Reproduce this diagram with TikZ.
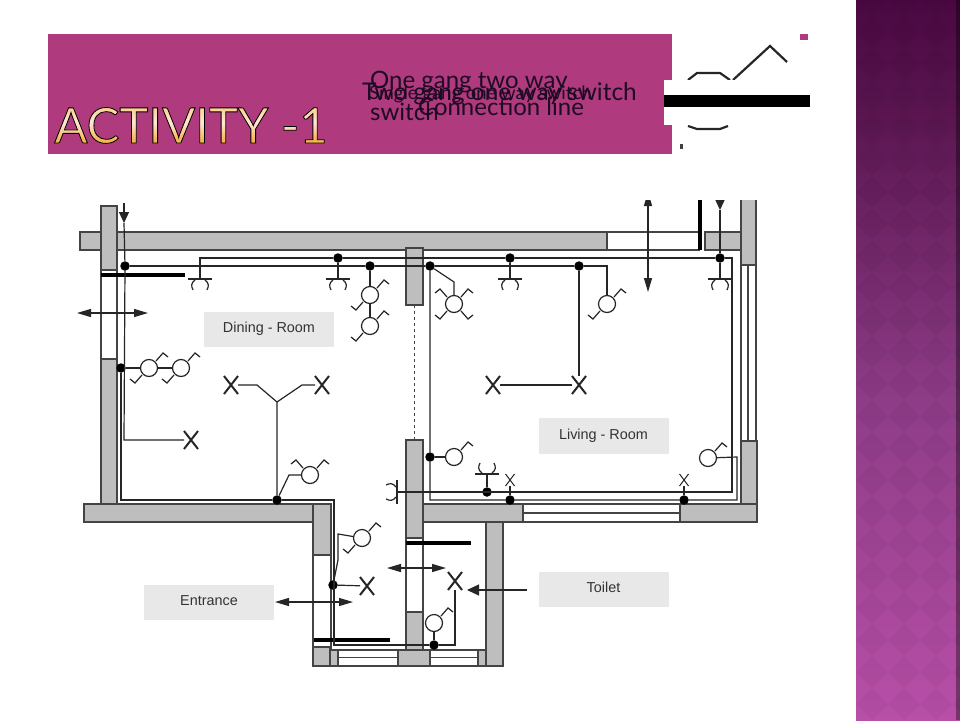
\documentclass[tikz,border=0pt]{standalone}
\usepackage{fontspec}
\setmainfont{Liberation Sans}
\newfontfamily\gillish{Lato}
\usetikzlibrary{arrows.meta,shapes.misc}
\definecolor{boxpink}{HTML}{B03A7E}
\definecolor{wallgrey}{HTML}{BEBEBE}
\definecolor{wallline}{HTML}{444444}
\definecolor{wireblk}{HTML}{262626}
\definecolor{labelbg}{HTML}{E8E8E8}
\definecolor{inkdark}{HTML}{1F0A24}
\definecolor{tA}{HTML}{F9B64C}
\definecolor{tB}{HTML}{FFE9D6}
\definecolor{tC}{HTML}{F9CB80}
\definecolor{stripA}{HTML}{4A0842}
\definecolor{stripB}{HTML}{5B1651}
\definecolor{stripC}{HTML}{8E3C87}
\definecolor{stripD}{HTML}{B84FA8}
\newsavebox{\titlebox}
\newcommand{\gradienttitle}[1]{%
  \sbox{\titlebox}{\gillish\fontsize{49}{60}\selectfont #1}%
  \special{pdf:code q 7 Tr}\usebox{\titlebox}\special{pdf:code 0 Tr}%
  \kern-\wd\titlebox
  \foreach \hh in {-14,-12,...,44}{%
    \pgfmathtruncatemacro{\pa}{min(100,max(0,(19-\hh)*6))}%
    \pgfmathtruncatemacro{\pb}{min(100,max(0,(\hh-19)*5.5))}%
    \ifnum\hh<19 \rlap{\textcolor{tA!\pa!tB}{\rule[\hh pt]{\wd\titlebox}{2.3pt}}}%
    \else \rlap{\textcolor{tC!\pb!tB}{\rule[\hh pt]{\wd\titlebox}{2.3pt}}}\fi}%
  \special{pdf:code Q}%
  \special{pdf:code q 1 Tr 0.8 w 0.54 0.22 0.38 RG}\usebox{\titlebox}\special{pdf:code 0 Tr}\special{pdf:code Q}%
  \kern-\wd\titlebox\hphantom{\usebox{\titlebox}}%
}
\tikzset{
  wall/.style={fill=wallgrey,draw=wallline,line width=1.2pt},
  frame/.style={draw=wallline,line width=1.2pt},
  wire/.style={draw=wireblk,line width=1.2pt},
  heavy/.style={draw=black,line width=4.4pt},
  dot/.style={circle,fill=black,inner sep=0pt,minimum size=9.5pt},
  lamp/.style={circle,draw=wireblk,line width=1.2pt,fill=white,inner sep=0pt,minimum size=17pt},
  xmark/.style={cross out,draw=wireblk,line width=2pt,inner sep=0pt,minimum width=12pt,minimum height=16pt},
  smallx/.style={cross out,draw=wireblk,line width=1pt,inner sep=0pt,minimum width=8pt,minimum height=11pt},
  roomlabel/.style={fill=labelbg,text=black!80,font=\fontsize{14.4}{16}\selectfont,minimum width=130pt,minimum height=35.5pt,inner sep=0pt,text height=10pt,text depth=4pt},
  doorarrow/.style={wire,{Triangle[length=14pt,width=8pt]}-{Triangle[length=14pt,width=8pt]}},
  inarrow/.style={wire,-{Triangle[length=11pt,width=10pt]}},
  overlay/.style={text=inkdark,inner sep=0pt,anchor=base west,align=left,font=\gillish\fontsize{24}{32}\selectfont},
  swarm/.pic={\draw[wire] (7,-7)--(14,-15)--(19,-11);},
  socket/.pic={\draw[wire,line width=1.5pt] (-12,0)--(12,0);
    \draw[wire] (-5,1) .. controls (-9,4) and (-9,7) .. (-7,11);
    \draw[wire] (5,1) .. controls (9,4) and (9,7) .. (7,11);}
}
\begin{document}
\begin{tikzpicture}[x=1pt,y=-1pt]
\useasboundingbox (0,0) rectangle (960,720);
\fill[white] (0,0) rectangle (960,720);
% side strip
\begin{scope}
  \clip (856,0) rectangle (960,720);
  \shade[top color=stripA,bottom color=stripB] (856,0) rectangle (960,120.5);
  \shade[top color=stripB,bottom color=stripC] (856,120) rectangle (960,400.5);
  \shade[top color=stripC,bottom color=stripD] (856,400) rectangle (960,720);
  \foreach \r in {0,...,23}{
    \foreach \c in {0,...,4}{
      \pgfmathsetmacro{\cx}{840+\c*32}
      \pgfmathsetmacro{\cy}{\r*32}
      \fill[black,opacity=0.035] (\cx-16,\cy) -- (\cx,\cy-16) -- (\cx+16,\cy) -- (\cx,\cy+16) -- cycle;
    }
  }
  \fill[black,opacity=0.35] (956,0) rectangle (960,720);
\end{scope}
% title box
\fill[boxpink] (48,34) rectangle (672,154);
\node[inner sep=0pt,anchor=base] (title) at (191,143) {\gradienttitle{ACTIVITY -1}};
% overlapped texts
\node[overlay] (t1) at (370,120) {One gang two way\\switch};
\node[overlay,font=\gillish\fontsize{24.4}{32}\selectfont] (t2) at (362,100) {Two gang one way switch};
\node[overlay,font=\gillish\fontsize{18.5}{22}\selectfont] (t3) at (369,99) {Single gang one way switch};
\node[overlay] (t4) at (418,115) {Connection line};
% clipped symbol image at top right
\draw[wire,line width=2.2pt] (688,80)--(697,73)--(720,73)--(730,80);
\draw[wire,line width=2.2pt] (733,80)--(770,46)--(787,62);
\draw[wire,line width=2.2pt] (688,126)--(697,129)--(720,129)--(728,126);
\fill[white] (664,80) rectangle (810,125);
\fill[black] (664,94.5) rectangle (810,106.5);
\fill[boxpink] (800,34) rectangle (808,40);
\fill[black!75] (680,144) rectangle (683,149);
% plan
\begin{scope}
\clip (60,200) rectangle (790,680);
% walls
\draw[wall] (80,232) rectangle (607,250);
\draw[frame] (607,232) -- (700,232) (607,250) -- (700,250);
\draw[wall] (705,232) rectangle (741,250);
\draw[wall] (101,206) rectangle (117,270);
\draw[frame] (101,270) -- (101,359) (117,270) -- (117,359);
\draw[wall] (101,359) rectangle (117,504);
\draw[wall] (741,190) rectangle (756,265);
\draw[frame] (741,265) -- (741,441) (748,265) -- (748,441) (756,265) -- (756,441);
\draw[wall] (741,441) rectangle (757,504);
\draw[wall] (406,248) rectangle (423,305);
\draw[frame,dashed,line width=1pt] (414,305) -- (414,440);
\draw[wall] (84,504) rectangle (331,522);
\draw[wall] (313,504) rectangle (331,555);
\draw[frame] (313,555) -- (313,647) (331,555) -- (331,650);
\draw[wall] (313,647) rectangle (330,666);
\draw[wall] (330,650) rectangle (338,666);
\draw[frame] (338,650) -- (398,650) (338,657.5) -- (398,657.5) (338,666) -- (398,666);
\draw[wall] (398,650) rectangle (430,666);
\draw[frame] (430,650) -- (478,650) (430,657.5) -- (478,657.5) (430,666) -- (478,666);
\draw[wall] (478,650) rectangle (486,666);
\draw[wall] (486,522) rectangle (503,666);
\draw[wall] (406,440) rectangle (423,538);
\draw[frame] (406,538) -- (406,612) (423,538) -- (423,612);
\draw[wall] (406,612) rectangle (423,650);
\draw[wall] (423,504) rectangle (523,522);
\draw[frame] (523,504) -- (680,504) (523,513) -- (680,513) (523,522) -- (680,522);
\draw[wall] (680,504) rectangle (757,522);
% heavy bars
\draw[heavy] (700,190) -- (700,250);
\draw[heavy] (101,275) -- (185,275);
\draw[heavy] (406,543) -- (471,543);
\draw[heavy] (314,640) -- (390,640);
% labels
\node[roomlabel] (dining) at (269,329.5) {Dining - Room};
\node[roomlabel] (living) at (603.5,436) {Living - Room};
\node[roomlabel] (toilet) at (603.5,589.5) {Toilet};
\node[roomlabel] (entrance) at (209,602.5) {Entrance};
% junction dots
\node[dot] (d1) at (125,266) {};
\node[dot] (d2) at (338,258) {};
\node[dot] (d3) at (370,266) {};
\node[dot] (d4) at (430,266) {};
\node[dot] (d5) at (510,258) {};
\node[dot] (d6) at (579,266) {};
\node[dot] (d7) at (720,258) {};
\node[dot] (d8) at (121,368) {};
\node[dot] (d9) at (277,500) {};
\node[dot] (d10) at (430,457) {};
\node[dot] (d11) at (487,492) {};
\node[dot] (d12) at (510,500) {};
\node[dot] (d13) at (684,500) {};
\node[dot] (d14) at (333,585) {};
\node[dot] (d15) at (434,645) {};
% free ends of wires
\coordinate (w1a) at (200,258);
\coordinate (w1b) at (732,258);
\coordinate (w1c) at (732,492);
\coordinate (w1d) at (397,492);
\coordinate (w2b) at (607,266);
\coordinate (s1) at (200,279);
\coordinate (s2) at (338,279);
\coordinate (s3) at (510,279);
\coordinate (s4) at (720,279);
\coordinate (s5) at (487,474);
\coordinate (in1) at (124,223);
\coordinate (in2) at (720,210);
% lamps
\node[lamp] (l1) at (370,295) {};
\node[lamp] (l2) at (370,326) {};
\node[lamp] (l3) at (454,304) {};
\node[lamp] (l4) at (607,304) {};
\node[lamp] (l5) at (149,368) {};
\node[lamp] (l6) at (181,368) {};
\node[lamp] (l7) at (310,475) {};
\node[lamp] (l8) at (454,457) {};
\node[lamp] (l9) at (708,458) {};
\node[lamp] (l10) at (362,538) {};
\node[lamp] (l11) at (434,623) {};
% lights
\node[xmark] (x1) at (231,385) {};
\node[xmark] (x2) at (322,385) {};
\node[xmark] (x3) at (191,440) {};
\node[xmark] (x4) at (493,385) {};
\node[xmark] (x5) at (579,385) {};
\node[xmark] (x6) at (455,581) {};
\node[xmark] (x7) at (367,586) {};
\node[smallx] (x8) at (510,480) {};
\node[smallx] (x9) at (684,480) {};
% wires
\draw[wire] (s1) -- (w1a) -- (d2) -- (d5) -- (d7) -- (w1b) -- (w1c) -- (w1d);
\draw[wire] (d1) -- (d3) -- (d4) -- (d6) -- (w2b) -- (l4);
\draw[wire] (d2) -- (s2);
\draw[wire] (d5) -- (s3);
\draw[wire] (d7) -- (s4);
\draw[wire] (in2) -- (d7);
\draw[wire] (d3) -- (l1) -- (l2);
\draw[wire] (d4) -- (454,282) -- (l3);
\draw[wire] (d4) -- (d10) -- (430,500) -- (d12) -- (d13) -- (737,500) -- (737,457) -- (l9);
\draw[wire] (d10) -- (l8);
\draw[wire] (d6) -- (x5) -- (x4);
\draw[wire] (in1) -- (d1) -- (124,440) -- (x3);
\draw[wire] (d8) -- (l5) -- (l6);
\draw[wire] (d8) -- (121,500) -- (d9) -- (334,500) -- (334,645) -- (d15) -- (455,645) -- (x6);
\draw[wire] (d9) -- (277,402) -- (257,385) -- (x1);
\draw[wire] (277,402) -- (302,385) -- (x2);
\draw[wire] (d9) -- (289,475) -- (l7);
\draw[wire] (d14) -- (x7);
\draw[wire] (d14) -- (338,560) -- (338,534) -- (l10);
\draw[wire] (d15) -- (l11);
\draw[wire] (d11) -- (s5);
\draw[wire] (d12) -- (x8);
\draw[wire] (d13) -- (x9);
% switch arms
\foreach \n in {l1,l2,l3,l4,l5,l6,l8,l9,l10,l11,l7} \pic at (\n) {swarm};
\foreach \n in {l1,l2,l3,l4,l5,l6,l10} \pic[xscale=-1,yscale=-1] at (\n) {swarm};
\pic[xscale=-1] at (l3) {swarm};
\pic[yscale=-1] at (l3) {swarm};
\pic[xscale=-1] at (l7) {swarm};
% sockets
\pic at (s1) {socket};
\pic at (s2) {socket};
\pic at (s3) {socket};
\pic at (s4) {socket};
\pic[yscale=-1] at (s5) {socket};
\pic[rotate=-90] at (397,492) {socket};
% arrows
\draw[inarrow] (124,203) -- (in1);
\draw[inarrow] (720,190) -- (in2);
\draw[doorarrow] (77,313) -- (148,313);
\draw[doorarrow] (648,192) -- (648,292);
\draw[doorarrow] (387,568) -- (446,568);
\draw[doorarrow] (275,602) -- (353,602);
\draw[wire,-{Triangle[length=12pt,width=11pt]}] (527,590) -- (467,590);
\end{scope}
\end{tikzpicture}
\end{document}
